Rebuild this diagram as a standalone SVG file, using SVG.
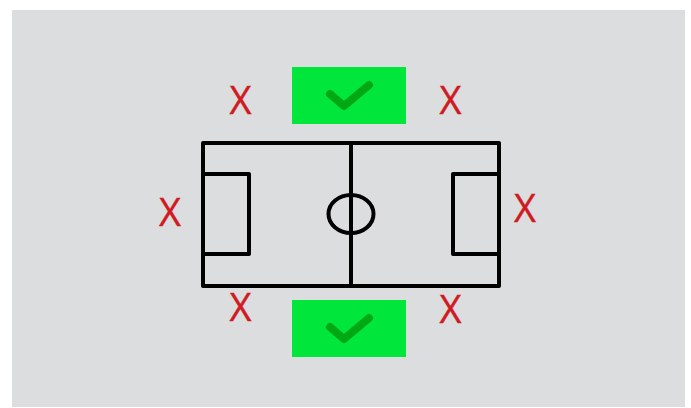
<svg xmlns="http://www.w3.org/2000/svg" width="691" height="408" viewBox="0 0 691 408">
<style>
.x{font-family:"Open Sans","DejaVu Sans",sans-serif;font-size:38px;fill:#d01a22;stroke:#d01a22;stroke-width:.4;text-anchor:middle}
.p{fill:none;stroke:#000;stroke-width:4;stroke-linejoin:round}
.b{fill:#00e63b}
.c{fill:none;stroke:#00a814;stroke-width:8;stroke-linecap:round;stroke-linejoin:round}
</style>
<rect width="691" height="408" fill="#fff"/>
<rect x="12" y="10" width="673" height="397" fill="#dcdddf"/>
<g id="pitch">
<rect class="p" x="203" y="143" width="296" height="143"/>
<path class="p" d="M351 143V286"/>
<ellipse class="p" cx="351" cy="214" rx="22.500" ry="19"/>
<path class="p" d="M203 174H249V254H203"/>
<path class="p" d="M499 174H453V254H499"/>
</g>
<g id="ok-top"><rect class="b" x="292" y="67" width="114" height="57"/><path class="c" d="M330 94L344 106L369 85"/></g>
<g id="ok-bottom"><rect class="b" x="292" y="300" width="114" height="57"/><path class="c" d="M330 327L344 339L369 318"/></g>
<g id="x1"><text class="x" x="240.500" y="114">X</text></g>
<g id="x2"><text class="x" x="450.500" y="114">X</text></g>
<g id="x3"><text class="x" x="170" y="226">X</text></g>
<g id="x4"><text class="x" x="525" y="222">X</text></g>
<g id="x5"><text class="x" x="240.500" y="321">X</text></g>
<g id="x6"><text class="x" x="450.500" y="323">X</text></g>
</svg>
